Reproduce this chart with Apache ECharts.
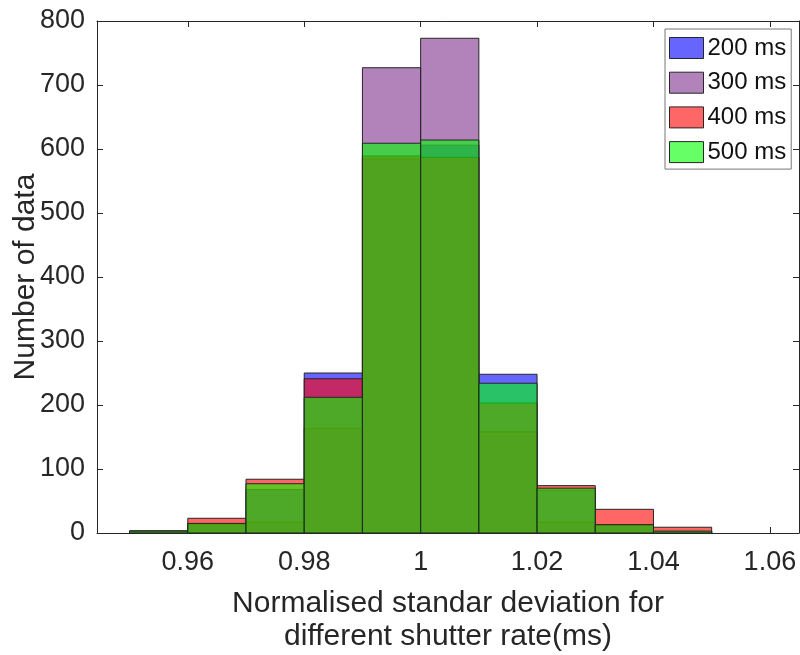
<!DOCTYPE html>
<html>
<head>
<meta charset="utf-8">
<script src="https://cdn.jsdelivr.net/npm/echarts@6/dist/echarts.min.js"></script>
<style>
html,body{margin:0;padding:0;background:#fff;}
#chart{width:800px;height:655px;}
</style>
</head>
<body>
<div id="chart"></div>
<script>
// Histogram bin edges
const binLo = [0.95, 0.96, 0.97, 0.98, 0.99, 1.00, 1.01, 1.02, 1.03, 1.04];
const binHi = [0.96, 0.97, 0.98, 0.99, 1.00, 1.01, 1.02, 1.03, 1.04, 1.05];
// Counts per bin for each shutter rate
const ms200 = [3, 14, 68, 250, 585, 606, 248, 67, 13, 2];
const ms300 = [3, 14, 17, 163, 727, 773, 158, 17, 12, 2];
const ms400 = [3, 23, 84, 241, 589, 587, 203, 74, 37, 9];
const ms500 = [3, 15, 77, 212, 609, 614, 234, 70, 13, 3];
const seriesNames = ['200 ms', '300 ms', '400 ms', '500 ms'];
const xLabelText = 'Normalised standar deviation for\ndifferent shutter rate(ms)';
const yLabelText = 'Number of data';

const fills = ['rgba(0,0,255,0.6)', 'rgba(126,47,142,0.6)', 'rgba(255,0,0,0.6)', 'rgba(0,255,0,0.6)'];
const edge = '#262626';
const txt = '#262626';
const font = 'Liberation Sans, Arial, Helvetica, sans-serif';
const allValues = [ms200, ms300, ms400, ms500];

function makeSeries(idx) {
  const vals = allValues[idx];
  const data = binLo.map((lo, i) => [lo, binHi[i], vals[i]]);
  return {
    name: seriesNames[idx],
    type: 'custom',
    xAxisIndex: 0,
    yAxisIndex: 0,
    itemStyle: { color: fills[idx], borderColor: edge, borderWidth: 1 },
    encode: { x: [0, 1], y: 2 },
    data: data,
    renderItem: function (params, api) {
      const p0 = api.coord([api.value(0), 0]);
      const p1 = api.coord([api.value(1), api.value(2)]);
      return {
        type: 'rect',
        shape: { x: p0[0], y: p1[1], width: p1[0] - p0[0], height: p0[1] - p1[1] },
        style: { fill: fills[idx], stroke: edge, lineWidth: 1 }
      };
    }
  };
}

const xMin = 0.9444, xMax = 1.065;
const chart = echarts.init(document.getElementById('chart'), null, { renderer: 'canvas' });
chart.setOption({
  animation: false,
  backgroundColor: '#fff',
  textStyle: { fontFamily: font, color: txt },
  grid: { left: 97, right: 1, top: 21, bottom: 122, containLabel: false, outerBoundsMode: 'none' },
  legend: {
    orient: 'vertical',
    left: 665,
    top: 29,
    icon: 'rect',
    itemWidth: 34,
    itemHeight: 21,
    itemGap: 10.7,
    padding: [7, 5, 5, 4],
    borderColor: '#777',
    borderWidth: 1,
    backgroundColor: '#fff',
    textStyle: { fontFamily: font, fontSize: 24, color: '#111', padding: [0, 0, 0, -1], lineHeight: 21 },
    itemStyle: { borderColor: edge, borderWidth: 1 },
    data: seriesNames.map((n, i) => ({ name: n, itemStyle: { color: fills[i], borderColor: edge, borderWidth: 1 } }))
  },
  xAxis: [
    {
      type: 'value', min: xMin, max: xMax, splitNumber: 5, position: 'bottom',
      name: xLabelText, nameLocation: 'middle', nameGap: 54, nameMoveOverlap: false,
      nameTextStyle: { fontFamily: font, fontSize: 30, color: txt, lineHeight: 33 },
      axisLine: { show: true, onZero: false, lineStyle: { color: '#262626', width: 1 } },
      axisTick: { show: true, inside: true, length: 6, lineStyle: { color: '#262626' } },
      axisLabel: { show: true, fontFamily: font, fontSize: 27, color: txt, margin: 16, showMinLabel: false, showMaxLabel: false },
      splitLine: { show: false }
    },
    {
      type: 'value', min: xMin, max: xMax, splitNumber: 5, position: 'top',
      axisLine: { show: true, onZero: false, lineStyle: { color: '#262626', width: 1 } },
      axisTick: { show: true, inside: true, length: 6, lineStyle: { color: '#262626' } },
      axisLabel: { show: false },
      splitLine: { show: false }
    }
  ],
  yAxis: [
    {
      type: 'value', min: 0, max: 800, interval: 100, position: 'left',
      name: yLabelText, nameLocation: 'middle', nameGap: 56, nameRotate: 90, nameMoveOverlap: false,
      nameTextStyle: { fontFamily: font, fontSize: 30, color: txt },
      axisLine: { show: true, onZero: false, lineStyle: { color: '#262626', width: 1 } },
      axisTick: { show: true, inside: true, length: 6, lineStyle: { color: '#262626' } },
      axisLabel: { show: true, fontFamily: font, fontSize: 27, color: txt, margin: 12 },
      splitLine: { show: false }
    },
    {
      type: 'value', min: 0, max: 800, interval: 100, position: 'right',
      axisLine: { show: true, onZero: false, lineStyle: { color: '#262626', width: 1 } },
      axisTick: { show: true, inside: true, length: 6, lineStyle: { color: '#262626' } },
      axisLabel: { show: false },
      splitLine: { show: false }
    }
  ],
  series: [0, 1, 2, 3].map(makeSeries)
});
</script>
</body>
</html>
